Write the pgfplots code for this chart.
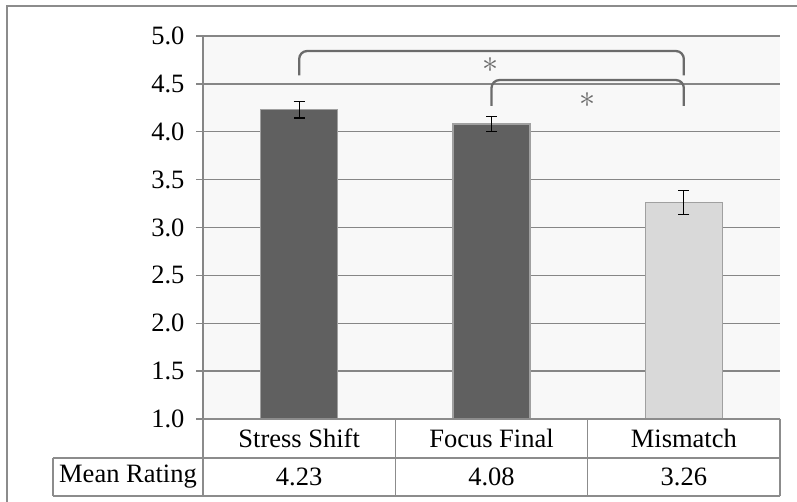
\documentclass[border=0pt]{standalone}
\usepackage{pgfplots}
\pgfplotsset{compat=1.18}
\usepackage{fontspec}
\setmainfont{Liberation Serif}
\definecolor{bgcol}{HTML}{F8F8F8}
\definecolor{gridcol}{HTML}{868686}
\definecolor{darkbar}{HTML}{606060}
\definecolor{lightbar}{HTML}{D9D9D9}
\definecolor{barborder}{HTML}{A0A0A0}
\definecolor{brack}{HTML}{6B6B6B}
\definecolor{framecol}{HTML}{8C8C8C}
\newcommand{\tfont}{\fontsize{26.5}{30}\selectfont}
\begin{document}
\begin{tikzpicture}[x=1pt,y=1pt]
\useasboundingbox (0,0) rectangle (797,502);
\draw[framecol, line width=1.2pt] (7,-10) -- (7,496) -- (810,496);
\begin{axis}[
  at={(203pt,83pt)}, anchor=south west,
  scale only axis, width=577pt, height=383pt,
  xmin=-0.5, xmax=2.5, ymin=1, ymax=5,
  clip=false,
  axis background/.style={fill=bgcol},
  axis x line=none,
  axis y line*=left,
  y axis line style={-, draw=gridcol, line width=1.3pt},
  ytick={1,1.5,2,2.5,3,3.5,4,4.5,5},
  ymajorgrids,
  grid style={gridcol, line width=1.3pt},
  major tick length=7pt,
  tick align=outside,
  ytick style={gridcol, line width=1.3pt},
  yticklabel style={font=\tfont, xshift=-8pt, /pgf/number format/.cd, fixed, fixed zerofill, precision=1, assume math mode=true},
]
\addplot[ybar, bar width=0.4, bar shift=0pt, fill=darkbar, draw=barborder, line width=1.2pt,
  error bars/.cd, y dir=both, y explicit,
  error bar style={black, line width=1.3pt},
  error mark options={rotate=90, mark size=5.5pt, black, line width=1.3pt}]
  coordinates {(0,4.23) +- (0,0.085) (1,4.08) +- (0,0.077)};
\addplot[ybar, bar width=0.4, bar shift=0pt, fill=lightbar, draw=barborder, line width=1.2pt,
  error bars/.cd, y dir=both, y explicit,
  error bar style={black, line width=1.3pt},
  error mark options={rotate=90, mark size=5.5pt, black, line width=1.3pt}]
  coordinates {(2,3.26) +- (0,0.125)};
% significance brackets
\draw[brack, line width=2.3pt, rounded corners=8pt]
  (axis cs:0,4.59) -- (axis cs:0,4.843) -- (axis cs:2,4.843) -- (axis cs:2,4.59);
\draw[brack, line width=2.3pt, rounded corners=8pt]
  (axis cs:1,4.27) -- (axis cs:1,4.54) -- (axis cs:2,4.54) -- (axis cs:2,4.27);
\node[brack, scale=3.2, inner sep=0pt] at (axis cs:0.997,4.697) {$\ast$};
\node[brack, scale=3.2, inner sep=0pt] at (axis cs:1.497,4.332) {$\ast$};
% data table
\draw[framecol, line width=1.2pt]
  (axis cs:-0.5,1) -- (axis cs:2.5,1)
  (axis cs:-1.28,0.593) -- (axis cs:2.5,0.593)
  (axis cs:-1.28,0.196) -- (axis cs:2.5,0.196)
  (axis cs:-1.28,0.593) -- (axis cs:-1.28,0.196)
  (axis cs:-0.5,1) -- (axis cs:-0.5,0.196)
  (axis cs:0.5,1) -- (axis cs:0.5,0.196)
  (axis cs:1.5,1) -- (axis cs:1.5,0.196)
  (axis cs:2.5,1) -- (axis cs:2.5,0.196);
\node[font=\tfont] at (axis cs:0,0.796) {Stress Shift};
\node[font=\tfont] at (axis cs:1,0.796) {Focus Final};
\node[font=\tfont] at (axis cs:2,0.796) {Mismatch};
\node[font=\tfont] at (axis cs:-0.89,0.394) {Mean Rating};
\node[font=\tfont] at (axis cs:0,0.394) {4.23};
\node[font=\tfont] at (axis cs:1,0.394) {4.08};
\node[font=\tfont] at (axis cs:2,0.394) {3.26};
\end{axis}
\end{tikzpicture}
\end{document}
